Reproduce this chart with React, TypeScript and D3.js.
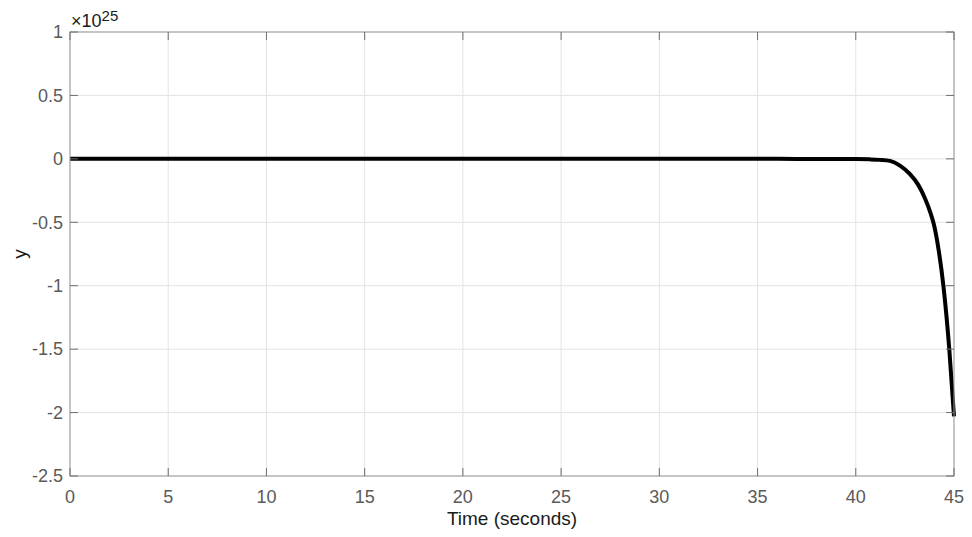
import React from "react";
import * as d3 from "d3";

const timeValues = [0, 10, 20, 30, 36, 38, 40, 40.72, 41.23, 41.74, 42.25, 42.76, 43.18, 43.52, 43.78, 43.98, 44.22, 44.46, 44.76, 45];
const yValues = [0, 0, 0, 0, 0, -0.0005, -0.0015, -0.004, -0.008, -0.016, -0.053, -0.121, -0.205, -0.31, -0.415, -0.52, -0.72, -1.0, -1.5, -2.03];
const xTicks = [0, 5, 10, 15, 20, 25, 30, 35, 40, 45];
const yTicks = [1, 0.5, 0, -0.5, -1, -1.5, -2, -2.5];
const yTickLabels = ["1", "0.5", "0", "-0.5", "-1", "-1.5", "-2", "-2.5"];

const W = 972, H = 537;
const L = 70, R = 954, T = 32, B = 476;
const FONT = "'Liberation Sans', Arial, Helvetica, sans-serif";

export default function App() {
  const x = d3.scaleLinear().domain([0, 45]).range([L, R]);
  const y = d3.scaleLinear().domain([-2.5, 1]).range([B, T]);
  const pts = timeValues.map((t, i) => [t, yValues[i]] as [number, number]);
  const line = d3.line<[number, number]>().x(d => x(d[0])).y(d => y(d[1])).curve(d3.curveMonotoneX);
  const tickLen = 8;
  const axisColor = "#9a9a9a";
  const tickColor = "#6e6e6e";
  const textGray = "#5a5a5a";
  return (
    <svg width={W} height={H} style={{ position: "absolute", left: 0, top: 0, background: "#fff" }}>
      <rect x={0} y={0} width={W} height={H} fill="#fff" />
      {xTicks.map(t => (
        <line key={"gx" + t} x1={x(t)} x2={x(t)} y1={T} y2={B} stroke="#e3e3e3" strokeWidth={1} />
      ))}
      {yTicks.map(t => (
        <line key={"gy" + t} x1={L} x2={R} y1={y(t)} y2={y(t)} stroke="#e3e3e3" strokeWidth={1} />
      ))}
      <path d={line(pts) || ""} fill="none" stroke="#000" strokeWidth={4} strokeLinejoin="round" />
      <rect x={L} y={T} width={R - L} height={B - T} fill="none" stroke={axisColor} strokeWidth={1} />
      {xTicks.map(t => (
        <g key={"tx" + t}>
          <line x1={x(t)} x2={x(t)} y1={B} y2={B - tickLen} stroke={tickColor} />
          <line x1={x(t)} x2={x(t)} y1={T} y2={T + tickLen} stroke={tickColor} />
          <text x={x(t)} y={503} textAnchor="middle" fontFamily={FONT} fontSize={18} fill={textGray}>{t}</text>
        </g>
      ))}
      {yTicks.map((t, i) => (
        <g key={"ty" + t}>
          <line x1={L} x2={L + tickLen} y1={y(t)} y2={y(t)} stroke={tickColor} />
          <line x1={R} x2={R - tickLen} y1={y(t)} y2={y(t)} stroke={tickColor} />
          <text x={63} y={y(t)} dy="0.35em" textAnchor="end" fontFamily={FONT} fontSize={18} fill={textGray}>{yTickLabels[i]}</text>
        </g>
      ))}
      <text x={71} y={27} fontFamily={FONT} fontSize={18} fill="#1a1a1a">
        ×10<tspan fontSize={15} dy={-6}>25</tspan>
      </text>
      <text x={(L + R) / 2} y={525} textAnchor="middle" fontFamily={FONT} fontSize={19} fill="#1a1a1a">Time (seconds)</text>
      <text transform={`translate(26, ${(T + B) / 2}) rotate(-90)`} textAnchor="middle" fontFamily={FONT} fontSize={19} fill="#1a1a1a">y</text>
    </svg>
  );
}
